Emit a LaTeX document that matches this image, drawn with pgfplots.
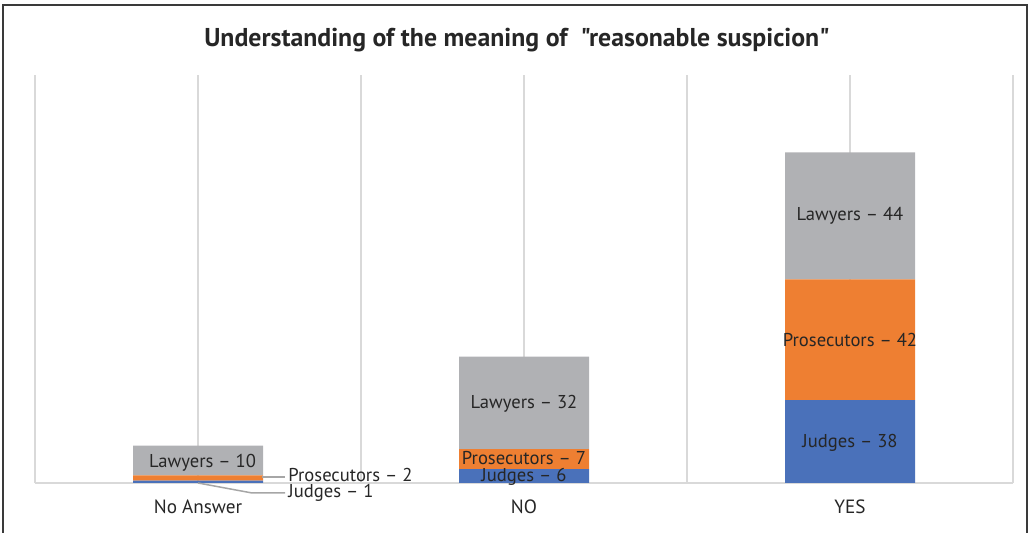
\documentclass[border=0pt]{standalone}
\usepackage{pgfplots}
\pgfplotsset{compat=1.18}
\usepackage{fontspec}
\setmainfont{PT Sans}
\newfontfamily\titlefont[Ligatures=TeXOff]{PT Sans}
\definecolor{cJ}{HTML}{4A71BA}
\definecolor{cP}{HTML}{EE7F32}
\definecolor{cL}{HTML}{B0B1B4}
\definecolor{gridgray}{HTML}{D9D9D9}
\definecolor{frame}{HTML}{3A3A3A}
\definecolor{txt}{HTML}{262626}
\tikzset{lab/.style={font=\fontsize{9.3}{11}\selectfont, text=txt}}
\pgfplotsset{
  myframe/.style={at={(17.5pt,25pt)}, anchor=south west,
  scale only axis, width=489pt, height=204pt,
  xmin=-0.5, xmax=2.5, ymin=0, ymax=140.7, clip=false},
}
\begin{document}
\begin{tikzpicture}
\useasboundingbox (0,0) rectangle (514.5pt,266.5pt);
\draw[frame, line width=1pt] (1.5pt,0) -- (1.5pt,264pt) -- (513.5pt,264pt) -- (513.5pt,0);
\node[font=\titlefont\bfseries\fontsize{12.9}{15}\selectfont, text=txt] at (258.5pt,246.5pt) {Understanding of the meaning of \ "reasonable suspicion"};
\begin{axis}[
  myframe,
  ybar stacked, bar width=65pt,
  axis x line=bottom, axis y line=none,
  x axis line style={draw=gridgray, line width=0.75pt, -},
  xtick={0,1,2}, xticklabels={No Answer,NO,YES},
  minor xtick={-0.5,0.5,1.5,2.5},
  xmajorgrids, xminorgrids,
  major grid style={gridgray, line width=0.75pt},
  minor grid style={gridgray, line width=0.75pt},
  major tick length=0pt, minor tick length=0pt,
  xticklabel style={anchor=base, yshift=-15.5pt, font=\fontsize{9.6}{11}\selectfont, text=txt},
  ytick=\empty,
]
\addplot[fill=cJ, draw=none] coordinates {(0,0.8) (1,4.8) (2,28.6)};
\addplot[fill=cP, draw=none] coordinates {(0,1.8) (1,6.9) (2,41.6)};
\addplot[fill=cL, draw=none] coordinates {(0,10.3) (1,31.9) (2,43.8)};
\end{axis}
\begin{axis}[
  myframe, hide axis,
]
\node[lab] at (axis cs:2,92.1) {Lawyers -- 44};
\node[lab] at (axis cs:2,49.3) {Prosecutors -- 42};
\node[lab] at (axis cs:2,13.9) {Judges -- 38};
\node[lab] at (axis cs:1,27.3) {Lawyers -- 32};
\node[lab] at (axis cs:1,8.6) {Prosecutors -- 7};
\node[lab] at (axis cs:1,2.2) {Judges -- 6};
\node[lab] at (axis cs:0.014,7.1) {Lawyers -- 10};
\node[lab, anchor=west, inner sep=0pt] at (axis cs:0.276,2.8) {Prosecutors -- 2};
\node[lab, anchor=west, inner sep=0pt] at (axis cs:0.276,-3.4) {Judges -- 1};
\draw[gray!70, line width=0.75pt] (axis cs:0.196,2.07) -- (axis cs:0.267,2.07);
\draw[gray!70, line width=0.75pt] (axis cs:0.0,0) -- (axis cs:0.166,-3.45) -- (axis cs:0.267,-3.45);
\end{axis}
\end{tikzpicture}
\end{document}
